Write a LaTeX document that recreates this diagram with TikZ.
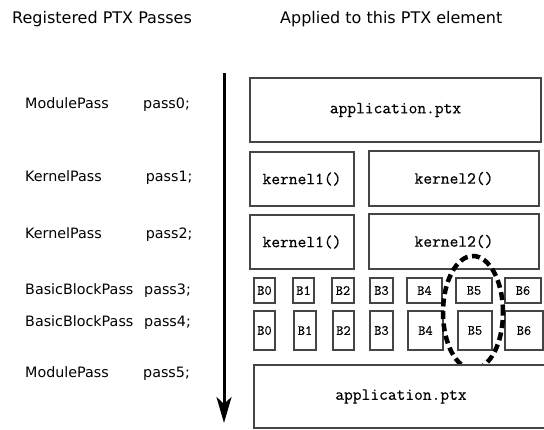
\documentclass[tikz,border=0pt]{standalone}
\usepackage{fontspec}
\setmainfont{DejaVu Sans}
\newfontfamily\ptxfont{Latin Modern Mono}[FakeBold=0.35]
\usetikzlibrary{arrows.meta}
\definecolor{boxgray}{HTML}{454545}
\begin{document}
\begin{tikzpicture}[x=1pt,y=-1pt,
    ptx/.style={draw=boxgray, line width=2pt, fill=white, inner sep=0pt,
        font=\ptxfont\fontsize{17}{18}\selectfont},
    blk/.style={ptx, font=\ptxfont\fontsize{14}{16}\selectfont},
    lbl/.style={anchor=base west, inner sep=0pt, font=\fontsize{14.3}{16}\selectfont},
    hdr/.style={anchor=base west, inner sep=0pt, font=\fontsize{16}{18}\selectfont},
    hilite/.style={draw=black, line width=4.5pt, dash pattern=on 8pt off 4.5pt}]
    \useasboundingbox (0,0) rectangle (544,430);

    % Headings
    \node[hdr] (reg) at (12,23.5) {Registered PTX Passes};
    \node[hdr] (app) at (280,23.5) {Applied to this PTX element};

    % Pass list
    \node[lbl] (t0) at (25,109) {ModulePass};     \node[lbl] (p0) at (143,109) {pass0;};
    \node[lbl] (t1) at (25,181.7) {KernelPass};   \node[lbl] (p1) at (145.7,181.7) {pass1;};
    \node[lbl] (t2) at (25,238.3) {KernelPass};   \node[lbl] (p2) at (145.7,238.3) {pass2;};
    \node[lbl] (t3) at (25,295) {BasicBlockPass}; \node[lbl] (p3) at (144,295) {pass3;};
    \node[lbl] (t4) at (25,326.7) {BasicBlockPass}; \node[lbl] (p4) at (144,326.7) {pass4;};
    \node[lbl] (t5) at (25,377.3) {ModulePass};   \node[lbl] (p5) at (143,377.3) {pass5;};

    % Order of execution
    \coordinate (start) at (224,73);
    \coordinate (finish) at (224,423);
    \draw[line width=3pt, -{Stealth[length=26pt, width=15pt, inset=7pt]}] (start) -- (finish);

    % Module level
    \node[ptx, minimum width=291pt, minimum height=64pt] (mod0) at (395.5,110) {application.ptx};

    % Kernel level
    \node[ptx, minimum width=104pt, minimum height=54pt] (k1a) at (302,179) {kernel1()};
    \node[ptx, minimum width=170pt, minimum height=55pt] (k2a) at (454,178.5) {kernel2()};
    \node[ptx, minimum width=104pt, minimum height=54pt] (k1b) at (302,242) {kernel1()};
    \node[ptx, minimum width=170pt, minimum height=55pt] (k2b) at (454,241.5) {kernel2()};

    % Basic block level, pass3
    \node[blk, minimum width=21pt, minimum height=25pt] (b0a) at (264.5,290.5) {B0};
    \node[blk, minimum width=21pt, minimum height=25pt] (b1a) at (303.5,290.5) {B1};
    \node[blk, minimum width=22pt, minimum height=25pt] (b2a) at (343,290.5) {B2};
    \node[blk, minimum width=23pt, minimum height=25pt] (b3a) at (381.5,290.5) {B3};
    \node[blk, minimum width=35pt, minimum height=25pt] (b4a) at (424.5,290.5) {B4};
    \node[blk, minimum width=36pt, minimum height=25pt] (b5a) at (474,290.5) {B5};
    \node[blk, minimum width=36pt, minimum height=25pt] (b6a) at (523,290.5) {B6};

    % Basic block level, pass4
    \node[blk, minimum width=21pt, minimum height=39pt] (b0b) at (264.5,330.5) {B0};
    \node[blk, minimum width=22pt, minimum height=39pt] (b1b) at (305,330.5) {B1};
    \node[blk, minimum width=21pt, minimum height=39pt] (b2b) at (343.5,330.5) {B2};
    \node[blk, minimum width=23pt, minimum height=39pt] (b3b) at (381.5,330.5) {B3};
    \node[blk, minimum width=35pt, minimum height=39pt] (b4b) at (425.5,330.5) {B4};
    \node[blk, minimum width=34pt, minimum height=39pt] (b5b) at (475,330.5) {B5};
    \node[blk, minimum width=38pt, minimum height=39pt] (b6b) at (524,330.5) {B6};

    % Highlight on B5
    \draw[hilite] (473,312.5) ellipse [x radius=30pt, y radius=56.5pt];

    % Module level again
    \node[ptx, minimum width=294pt, minimum height=63pt] (mod5) at (401,396.5) {application.ptx};
\end{tikzpicture}
\end{document}
